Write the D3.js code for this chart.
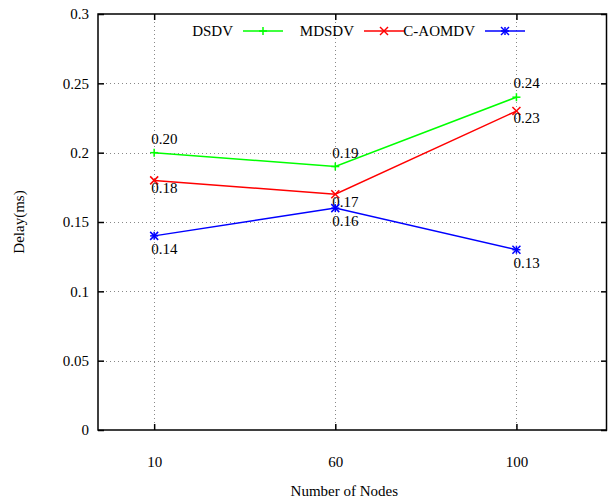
<!DOCTYPE html>
<html>
<head>
<meta charset="utf-8">
<script src="https://cdn.jsdelivr.net/npm/d3@7"></script>
<style>
  body { margin: 0; background: #fff; }
  svg { display: block; }
  text { font-family: "Liberation Serif", "Times New Roman", serif; fill: #000; }
</style>
</head>
<body>
<div id="chart"></div>
<script>
// values
const nodes = ['10', '60', '100'];
const dsdv = [0.20, 0.19, 0.24];
const mdsdv = [0.18, 0.17, 0.23];
const caomdv = [0.14, 0.16, 0.13];
const yTicks = [0, 0.05, 0.1, 0.15, 0.2, 0.25, 0.3];

const width = 608;
const height = 502;
const margin = { top: 14, right: 1, bottom: 72, left: 98 };

const series = [
  { name: 'DSDV', values: dsdv, color: '#00ff00', marker: 'plus', labelDy: -14 },
  { name: 'MDSDV', values: mdsdv, color: '#ff0000', marker: 'cross', labelDy: 7 },
  { name: 'C-AOMDV', values: caomdv, color: '#0000ff', marker: 'star', labelDy: 13 }
];

const svg = d3.select('#chart')
  .append('svg')
  .attr('width', width)
  .attr('height', height);

const x = d3.scaleLinear()
  .domain([0.69, 3.5])
  .range([margin.left, width - margin.right]);
const y = d3.scaleLinear()
  .domain([0, 0.3])
  .range([height - margin.bottom, margin.top]);

const xPos = i => x(i + 1);

// grid
const grid = svg.append('g').attr('class', 'grid')
  .attr('stroke', '#888')
  .attr('stroke-width', 1)
  .attr('stroke-dasharray', '1,3');
grid.selectAll('.gy')
  .data(yTicks.slice(1, -1))
  .join('line')
  .attr('x1', margin.left).attr('x2', width - margin.right)
  .attr('y1', d => Math.round(y(d)) + 0.5).attr('y2', d => Math.round(y(d)) + 0.5);
grid.selectAll('.gx')
  .data(nodes)
  .join('line')
  .attr('x1', (d, i) => Math.round(xPos(i)) + 0.5).attr('x2', (d, i) => Math.round(xPos(i)) + 0.5)
  .attr('y1', margin.top).attr('y2', height - margin.bottom);

// axes
const yAxis = d3.axisLeft(y).tickValues(yTicks).tickFormat(d => d).tickSizeInner(-6).tickSizeOuter(0).tickPadding(9);
const yAxisR = d3.axisRight(y).tickValues(yTicks).tickFormat('').tickSizeInner(-6).tickSizeOuter(0);
const xAxis = d3.axisBottom(x).tickValues([1, 2, 3]).tickFormat((d, i) => nodes[i]).tickSizeInner(-6).tickSizeOuter(0).tickPadding(26);
const xAxisT = d3.axisTop(x).tickValues([1, 2, 3]).tickFormat('').tickSizeInner(-6).tickSizeOuter(0);

svg.append('g').attr('class', 'y-axis')
  .attr('transform', `translate(${margin.left},0)`).call(yAxis);
svg.append('g').attr('class', 'y-axis-right')
  .attr('transform', `translate(${width - margin.right},0)`).call(yAxisR);
svg.append('g').attr('class', 'x-axis')
  .attr('transform', `translate(0,${height - margin.bottom})`).call(xAxis);
svg.append('g').attr('class', 'x-axis-top')
  .attr('transform', `translate(0,${margin.top})`).call(xAxisT);

svg.selectAll('.domain').remove();
svg.selectAll('.tick line').attr('stroke', '#000').attr('stroke-width', 1.5);
svg.selectAll('.tick text')
  .attr('font-family', '"Liberation Serif", serif')
  .attr('font-size', 15)
  .attr('fill', '#000');

// frame
svg.append('rect')
  .attr('x', margin.left).attr('y', margin.top)
  .attr('width', width - margin.left - margin.right - 0.5)
  .attr('height', height - margin.top - margin.bottom)
  .attr('fill', 'none').attr('stroke', '#000').attr('stroke-width', 1.5);

// axis titles
svg.append('text')
  .attr('x', x(2.05)).attr('y', 496)
  .attr('text-anchor', 'middle').attr('font-size', 15)
  .text('Number of Nodes');
svg.append('text')
  .attr('transform', `translate(24,${y(0.15)}) rotate(-90)`)
  .attr('text-anchor', 'middle').attr('font-size', 15)
  .text('Delay(ms)');

// markers
function drawMarker(g, type, cx, cy, color) {
  const s = 4;
  const m = g.append('g').attr('stroke', color).attr('stroke-width', 1.5);
  if (type === 'plus' || type === 'star') {
    m.append('line').attr('x1', cx - s).attr('x2', cx + s).attr('y1', cy).attr('y2', cy);
    m.append('line').attr('x1', cx).attr('x2', cx).attr('y1', cy - s).attr('y2', cy + s);
  }
  if (type === 'cross' || type === 'star') {
    m.append('line').attr('x1', cx - s).attr('x2', cx + s).attr('y1', cy - s).attr('y2', cy + s);
    m.append('line').attr('x1', cx - s).attr('x2', cx + s).attr('y1', cy + s).attr('y2', cy - s);
  }
}

const line = d3.line()
  .x((d, i) => xPos(i))
  .y(d => y(d));

const lines = svg.append('g').attr('class', 'series');
series.forEach(s => {
  lines.append('path')
    .datum(s.values)
    .attr('d', line)
    .attr('fill', 'none')
    .attr('stroke', s.color)
    .attr('stroke-width', 1.5);
  s.values.forEach((v, i) => drawMarker(lines, s.marker, xPos(i), y(v), s.color));
  lines.selectAll(null)
    .data(s.values)
    .join('text')
    .attr('x', (d, i) => xPos(i) - 3)
    .attr('y', d => y(d) + s.labelDy)
    .attr('dy', '0.35em')
    .attr('font-size', 15)
    .text(d => d.toFixed(2));
});

// legend
const legend = svg.append('g').attr('class', 'legend');
const legendY = 31;
series.forEach((s, i) => {
  const sx = 243 + i * 121;
  legend.append('text')
    .attr('x', sx - 10).attr('y', legendY)
    .attr('dy', '0.35em')
    .attr('text-anchor', 'end')
    .attr('font-size', 15)
    .text(s.name);
  legend.append('line')
    .attr('x1', sx).attr('x2', sx + 40)
    .attr('y1', legendY).attr('y2', legendY)
    .attr('stroke', s.color).attr('stroke-width', 1.5);
  drawMarker(legend, s.marker, sx + 20, legendY, s.color);
});
</script>
</body>
</html>
